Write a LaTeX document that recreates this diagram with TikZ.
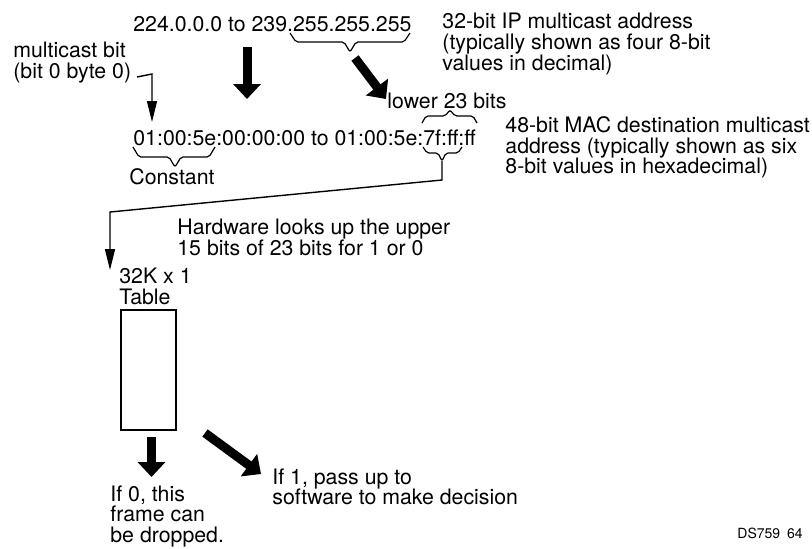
\documentclass[tikz,border=0pt]{standalone}
\usepackage{fontspec}
\setmainfont{TeX Gyre Heros}
\usetikzlibrary{arrows.meta}

\newcommand\diagfont{\fontsize{10.65}{10.35}\selectfont\lineskiplimit=-10pt\relax}

\tikzset{
  lbl/.style={anchor=base west},
  blk/.style={anchor=north west, align=left},
  fat/.style={line width=4.5pt, -{Triangle[width=13.5pt,length=7.5pt]}},
  thin/.style={line width=0.7pt, -{Triangle[width=5pt,length=10.5pt]}},
  bracket/.style={line width=0.6pt, rounded corners=1pt},
}

\begin{document}
\begin{tikzpicture}[x=0.5pt,y=-0.5pt,
  every node/.style={inner sep=0pt, font=\diagfont}]
\useasboundingbox (0,0) rectangle (812,548);

% addresses
\node[lbl] (ip) at (133,31) {224.0.0.0 to 239.255.255.255};
\node[lbl] (mac) at (133,145) {01:00:5e:00:00:00 to 01:00:5e:7f:ff:ff};

% side notes
\node[blk] (iplbl) at (442,13) {32-bit IP multicast address\\(typically shown as four 8-bit\\values in decimal)};
\node[blk] (maclbl) at (505,116) {48-bit MAC destination multicast\\address (typically shown as six\\8-bit values in hexadecimal)};
\node[blk] (mcbit) at (13,42) {multicast bit\\(bit 0 byte 0)};
\node[lbl] (lower) at (387,108) {lower 23 bits};
\node[lbl] (const) at (129,184) {Constant};
\node[blk] (hw) at (177,219) {Hardware looks up the upper\\15 bits of 23 bits for 1 or 0};

% table
\node[blk] (tbllbl) at (119,268) {32K x 1\\Table};
\node[draw, line width=1pt, minimum width=27.5pt, minimum height=60pt] (tbl) at (148.5,370) {};
\node[blk] (drop) at (110,485) {If 0, this\\frame can\\be dropped.};
\node[blk] (pass) at (272,468) {If 1, pass up to\\software to make decision};

\node[lbl, font=\fontsize{7}{8}\selectfont] (ds) at (737,538) {DS759\enspace64};

% braces
\draw[bracket] (290,33) -- (296,42) -- (344,42) -- (350,52) coordinate (ipb) -- (356,42) -- (404,42) -- (410,33);
\draw[bracket] (133,147) -- (139,157) -- (169,157) -- (175,167) coordinate (cb) -- (181,157) -- (209,157) -- (215,147);
\draw[bracket] (422,123) -- (426,116) -- (445,116) -- (450,110) coordinate (ub) -- (455,116) -- (473,116) -- (477,123);
\draw[bracket] (423,147) -- (427,153) -- (438,153) -- (442,161) coordinate (lb) -- (446,153) -- (458,153) -- (462,147);

% connectors
\coordinate (ipdown) at (247,47);
\coordinate (macup) at (247,99);
\coordinate (lowtip) at (386,99);
\coordinate (ipbend) at (355,58);
\draw[fat] (ipdown) -- (macup);
\draw[fat] (ipbend) -- (lowtip);

\coordinate (mcstart) at (137,77);
\coordinate (mcbend) at (152,74);
\coordinate (mctip) at (152,122);
\draw[thin] (mcstart) -- (mcbend) -- (mctip);

\coordinate (lbdown) at (442,180);
\coordinate (tblbend) at (110,212);
\coordinate (tbltip) at (110,270);
\draw[thin] (lb) -- (lbdown) -- (tblbend) -- (tbltip);

\coordinate (zerostart) at (151.5,437);
\coordinate (zerotip) at (151.5,477);
\coordinate (onestart) at (205,433);
\coordinate (onetip) at (261,474);
\draw[fat] (zerostart) -- (zerotip);
\draw[fat] (onestart) -- (onetip);
\end{tikzpicture}
\end{document}
